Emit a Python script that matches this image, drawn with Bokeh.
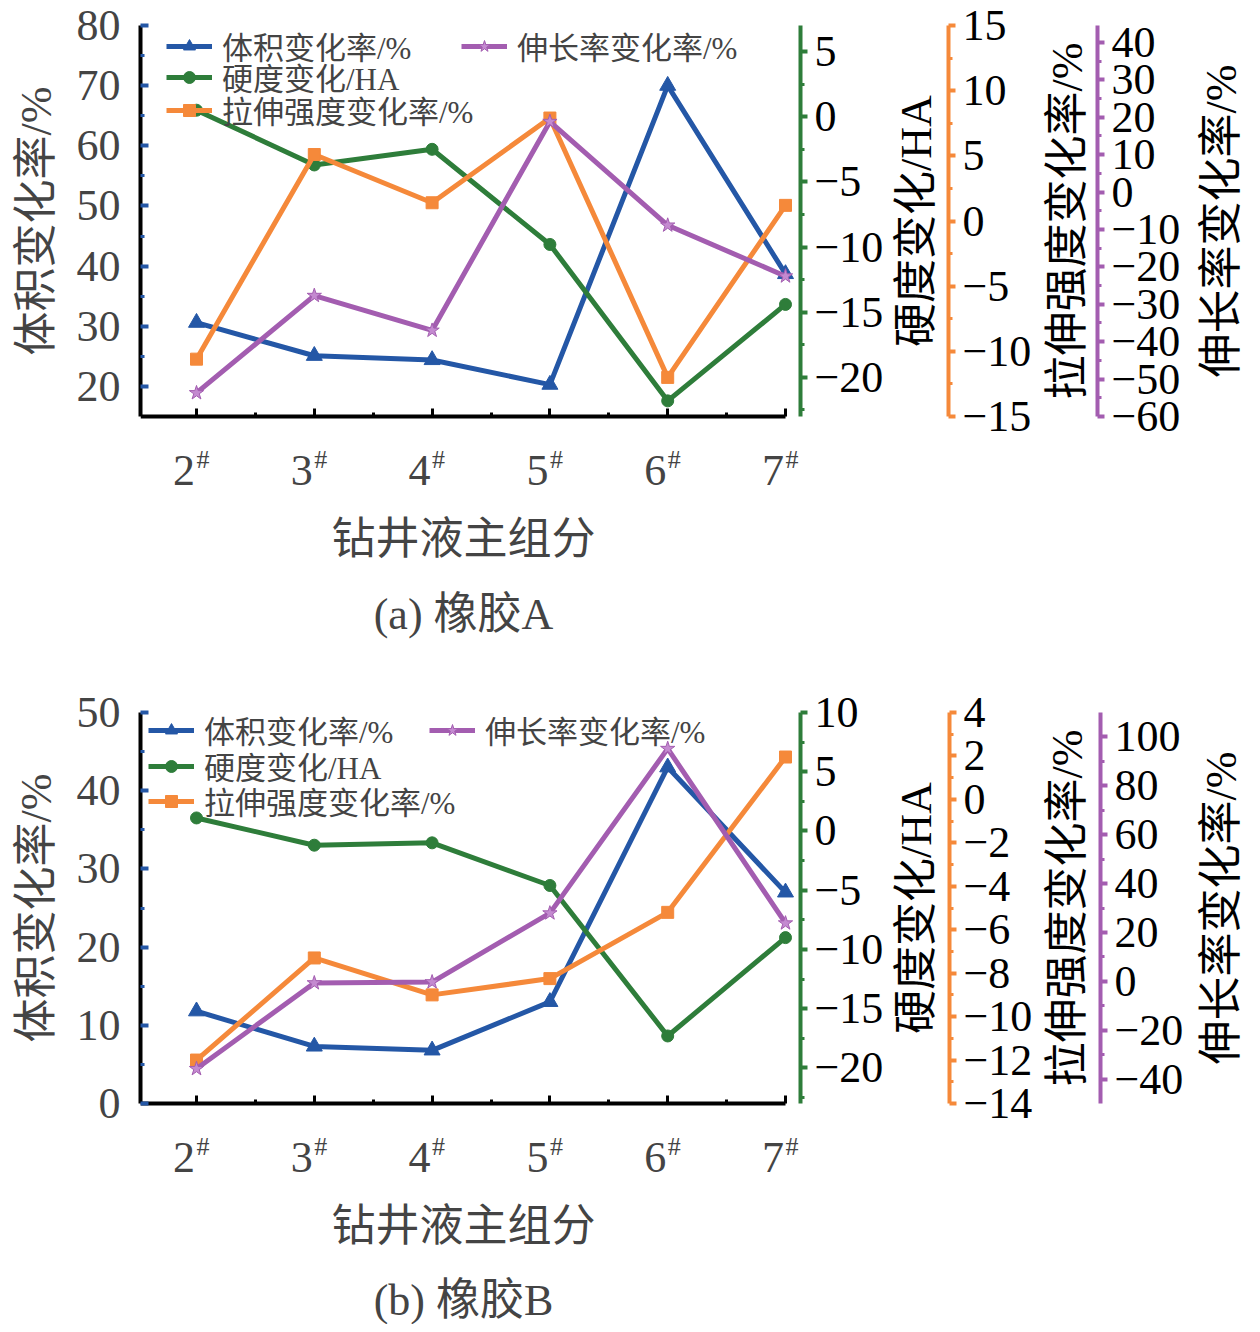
import math
from bokeh.plotting import figure
from bokeh.models import (Range1d, LinearAxis, FixedTicker, CustomJSTickFormatter,
                          Legend, LegendItem, Title, Label)
from bokeh.layouts import column
from bokeh.embed import file_html
from bokeh.resources import INLINE

# ---------------- data ----------------
categories = ["2", "3", "4", "5", "6", "7"]
x_pos = [2, 3, 4, 5, 6, 7]
series_names = ["体积变化率/%", "硬度变化/HA", "拉伸强度变化率/%", "伸长率变化率/%"]
x_title = "钻井液主组分"
captions = ["(a) 橡胶A", "(b) 橡胶B"]

# Rubber A
a_volume = [30.6, 25.1, 24.4, 20.3, 70.0, 38.7]
a_hardness = [0.5, -3.7, -2.5, -9.8, -21.8, -14.4]
a_tensile = [-10.6, 5.1, 1.4, 7.9, -12.0, 1.2]
a_elong = [-53.7, -27.7, -37.0, 18.8, -8.9, -22.5]

# Rubber B
b_volume = [11.8, 7.3, 6.8, 13.0, 43.0, 27.0]
b_hardness = [1.1, -1.2, -1.0, -4.6, -17.3, -9.0]
b_tensile = [-12.0, -7.3, -9.0, -8.25, -5.2, 1.95]
b_elong = [-35.8, -0.7, -0.3, 27.9, 95.2, 23.8]

# axis ranges / ticks
a_left_rng, a_green_rng, a_orange_rng, a_purple_rng = (15, 80), (-23, 7), (-15, 15), (-60, 44.5)
b_left_rng, b_green_rng, b_orange_rng, b_purple_rng = (0, 50), (-23, 10), (-14, 4), (-50, 110)

a_left_ticks = [20, 30, 40, 50, 60, 70, 80]
a_left_minor = [25, 35, 45, 55, 65, 75]
a_green_ticks = [-20, -15, -10, -5, 0, 5]
a_green_minor = [-22.5, -17.5, -12.5, -7.5, -2.5, 2.5]
a_orange_ticks = [-15, -10, -5, 0, 5, 10, 15]
a_orange_minor = [-12.5, -7.5, -2.5, 2.5, 7.5, 12.5]
a_purple_ticks = [-60, -50, -40, -30, -20, -10, 0, 10, 20, 30, 40]
a_purple_minor = [-55, -45, -35, -25, -15, -5, 5, 15, 25, 35]

b_left_ticks = [0, 10, 20, 30, 40, 50]
b_left_minor = [5, 15, 25, 35, 45]
b_green_ticks = [-20, -15, -10, -5, 0, 5, 10]
b_green_minor = [-22.5, -17.5, -12.5, -7.5, -2.5, 2.5, 7.5]
b_orange_ticks = [-14, -12, -10, -8, -6, -4, -2, 0, 2, 4]
b_orange_minor = [-13, -11, -9, -7, -5, -3, -1, 1, 3]
b_purple_ticks = [-40, -20, 0, 20, 40, 60, 80, 100]
b_purple_minor = [-30, -10, 10, 30, 50, 70, 90]

# ---------------- style / layout ----------------
BLUE = "#2457a6"
GREEN = "#2e7d3a"
ORANGE = "#f5893a"
PURPLE = "#a35db0"
NUM_FONT = "'Liberation Serif'"
CJK_FONT = "'Liberation Serif', 'Noto Sans CJK SC'"
TICK_FS = "44px"
LABEL_FS = "44px"

LEFT = 140                  # page x of the left axis
DATA_H = 391                # height of the plotted value span
PAD = 25                    # extra frame above/below so end tick labels are not clipped
FRAME_W, FRAME_H = 1112, DATA_H + 2 * PAD
X0 = 1.5246
PX_PER_X = 117.8
X1 = X0 + FRAME_W / PX_PER_X
DIGIT_SHIFT = -12.5 / PX_PER_X
HASH_SHIFT = 6.5 / PX_PER_X
RIGHT_LABEL_PX = [916, 1067, 1221]
XLAB_OFFSET = 323 - 6 * 44 / 2
CAP_OFFSET = 323 - ((0.333 + 0.444 + 0.333 + 0.25 + 0.722) * 44 + 2 * 44) / 2


def px_to_x(px):
    return X0 + (px - LEFT) / PX_PER_X


def padded(rng):
    u = (rng[1] - rng[0]) / DATA_H
    return Range1d(rng[0] - PAD * u, rng[1] + PAD * u)


minus_fmt = "return tick < 0 ? '\\u2212' + (-tick) : '' + tick;"


def style_right(ax, color):
    ax.axis_line_color = color
    ax.axis_line_width = 4
    ax.major_tick_line_color = color
    ax.major_tick_line_width = 4
    ax.major_tick_in = 0
    ax.major_tick_out = 7
    ax.minor_tick_line_color = color
    ax.minor_tick_line_width = 3
    ax.minor_tick_in = 0
    ax.minor_tick_out = 4
    ax.major_label_text_font = NUM_FONT
    ax.major_label_text_font_size = TICK_FS
    ax.major_label_text_color = "black"
    ax.major_label_standoff = 7
    ax.formatter = CustomJSTickFormatter(code=minus_fmt)


def bare_axis(ax):
    ax.axis_line_color = None
    ax.major_tick_line_color = None
    ax.minor_tick_line_color = None
    ax.major_tick_in = 0
    ax.major_tick_out = 0
    ax.minor_tick_in = 0
    ax.minor_tick_out = 0


def make_panel(vol, hard, tens, elong, rngs, ticks, caption, top_border, bottom_border,
               leg_locs, axis_px, xlab_standoff, cap_standoff):
    left_rng, green_rng, orange_rng, purple_rng = rngs
    (lt, lm, gt, gm, ot, om, pt, pm) = ticks
    p = figure(frame_width=FRAME_W, frame_height=FRAME_H, title=None,
               x_range=Range1d(X0, X1), y_range=padded(left_rng),
               output_backend="svg", toolbar_location=None,
               min_border_left=LEFT, min_border_right=0,
               min_border_top=top_border, min_border_bottom=bottom_border)
    p.outline_line_color = None
    p.grid.visible = False
    p.background_fill_color = "white"
    p.border_fill_color = "white"

    p.extra_y_ranges = {"g": padded(green_rng), "o": padded(orange_rng),
                        "p": padded(purple_rng)}
    p.extra_x_ranges = {"dig": Range1d(X0 - DIGIT_SHIFT, X1 - DIGIT_SHIFT),
                        "hash": Range1d(X0 - HASH_SHIFT, X1 - HASH_SHIFT)}

    # x axis: line + ticks at the bottom of the value span, ending at the last category
    xa = p.xaxis[0]
    xa.fixed_location = left_rng[0]
    xa.bounds = (X0, 7.0)
    xa.ticker = FixedTicker(ticks=x_pos, minor_ticks=[2.5, 3.5, 4.5, 5.5, 6.5])
    xa.formatter = CustomJSTickFormatter(code="return '';")
    xa.axis_line_color = "black"
    xa.axis_line_width = 4
    xa.major_tick_line_color = "black"
    xa.major_tick_line_width = 3
    xa.major_tick_in = 8
    xa.major_tick_out = 0
    xa.minor_tick_line_color = "black"
    xa.minor_tick_line_width = 3
    xa.minor_tick_in = 4
    xa.minor_tick_out = 0
    xa.major_label_standoff = 0
    xa.major_label_text_font_size = "1px"

    # category labels: digit and superscript '#'
    xd = LinearAxis(x_range_name="dig", ticker=FixedTicker(ticks=x_pos, minor_ticks=[]),
                    formatter=CustomJSTickFormatter(code="return '' + tick;"))
    bare_axis(xd)
    xd.major_label_text_font = NUM_FONT
    xd.major_label_text_font_size = TICK_FS
    xd.major_label_standoff = 39 - PAD
    p.add_layout(xd, "below")

    xh = LinearAxis(x_range_name="hash", ticker=FixedTicker(ticks=x_pos, minor_ticks=[]),
                    formatter=CustomJSTickFormatter(code="return '#';"))
    bare_axis(xh)
    xh.major_label_text_font = NUM_FONT
    xh.major_label_text_font_size = "26px"
    xh.major_label_standoff = -43
    p.add_layout(xh, "below")

    # x title and caption, centred under the x axis
    t1 = Title(text=x_title, align="left", text_font=CJK_FONT, text_font_size=LABEL_FS,
               text_font_style="normal", standoff=xlab_standoff, offset=XLAB_OFFSET)
    p.add_layout(t1, "below")
    t2 = Title(text=caption, align="left", text_font=CJK_FONT, text_font_size=LABEL_FS,
               text_font_style="normal", standoff=cap_standoff, offset=CAP_OFFSET)
    p.add_layout(t2, "below")

    # left axis
    ya = p.yaxis[0]
    ya.bounds = left_rng
    ya.ticker = FixedTicker(ticks=lt, minor_ticks=lm)
    ya.axis_line_color = "black"
    ya.axis_line_width = 4
    ya.major_tick_line_color = BLUE
    ya.major_tick_line_width = 4
    ya.major_tick_in = 8
    ya.major_tick_out = 0
    ya.minor_tick_line_color = BLUE
    ya.minor_tick_line_width = 3
    ya.minor_tick_in = 4
    ya.minor_tick_out = 0
    ya.major_label_text_font = NUM_FONT
    ya.major_label_text_font_size = TICK_FS
    ya.major_label_standoff = 20
    ya.axis_label = series_names[0]
    ya.axis_label_text_font = CJK_FONT
    ya.axis_label_text_font_size = LABEL_FS
    ya.axis_label_text_font_style = "normal"
    ya.axis_label_standoff = 13

    # right axes, placed at fixed positions; their titles as rotated labels
    y_mid = (left_rng[0] + left_rng[1]) / 2
    for (name, color, tk, mtk, rng), apx, lpx, lab in zip(
            (("g", GREEN, gt, gm, green_rng), ("o", ORANGE, ot, om, orange_rng),
             ("p", PURPLE, pt, pm, purple_rng)),
            axis_px, RIGHT_LABEL_PX, series_names[1:]):
        ax = LinearAxis(y_range_name=name, ticker=FixedTicker(ticks=tk, minor_ticks=mtk),
                        fixed_location=px_to_x(apx), bounds=rng)
        style_right(ax, color)
        p.add_layout(ax, "right")
        p.add_layout(Label(x=px_to_x(lpx), y=y_mid, text=lab, angle=math.pi / 2,
                           text_align="center", text_baseline="middle",
                           text_font=CJK_FONT, text_font_size=LABEL_FS, text_color="black"))

    # series
    lw = 5
    l_b = p.line(x_pos, vol, line_color=BLUE, line_width=lw)
    s_b = p.scatter(x_pos, vol, marker="triangle", size=16, fill_color=BLUE, line_color=BLUE)
    l_g = p.line(x_pos, hard, line_color=GREEN, line_width=lw, y_range_name="g")
    s_g = p.scatter(x_pos, hard, marker="circle", size=12, fill_color=GREEN, line_color=GREEN,
                    y_range_name="g")
    l_o = p.line(x_pos, tens, line_color=ORANGE, line_width=lw, y_range_name="o")
    s_o = p.scatter(x_pos, tens, marker="square", size=12, fill_color=ORANGE, line_color=ORANGE,
                    y_range_name="o")
    l_p = p.line(x_pos, elong, line_color=PURPLE, line_width=lw, y_range_name="p")
    s_p = p.scatter(x_pos, elong, marker="star", size=15, fill_color="#c48ad0", line_color=PURPLE,
                    y_range_name="p")

    def mk_leg(label, rends, loc):
        lg = Legend(items=[LegendItem(label=label, renderers=rends)], location=loc,
                    orientation="vertical")
        lg.label_text_font = CJK_FONT
        lg.label_text_font_size = "31px"
        lg.glyph_width = 46
        lg.glyph_height = 30
        lg.label_height = 30
        lg.label_standoff = 10
        lg.spacing = 0
        lg.padding = 0
        lg.margin = 0
        lg.background_fill_alpha = 0
        lg.border_line_color = None
        return lg

    for lab, rends, loc in zip(series_names,
                               ([l_b, s_b], [l_g, s_g], [l_o, s_o], [l_p, s_p]), leg_locs):
        p.add_layout(mk_leg(lab, rends, loc), "center")
    return p


p1 = make_panel(a_volume, a_hardness, a_tensile, a_elong,
                (a_left_rng, a_green_rng, a_orange_rng, a_purple_rng),
                (a_left_ticks, a_left_minor, a_green_ticks, a_green_minor,
                 a_orange_ticks, a_orange_minor, a_purple_ticks, a_purple_minor),
                captions[0], 0, 225,
                [(26, 373), (26, 342), (26, 309), (321, 373)], [800, 948, 1097], 50, -2)
p2 = make_panel(b_volume, b_hardness, b_tensile, b_elong,
                (b_left_rng, b_green_rng, b_orange_rng, b_purple_rng),
                (b_left_ticks, b_left_minor, b_green_ticks, b_green_minor,
                 b_orange_ticks, b_orange_minor, b_purple_ticks, b_purple_minor),
                captions[1], 21, 196,
                [(8, 376), (8, 340), (8, 305), (289, 376)], [800, 949, 1100], 50, -4)

layout = column(p1, p2)
open("out.html", "w").write(file_html(layout, INLINE))
